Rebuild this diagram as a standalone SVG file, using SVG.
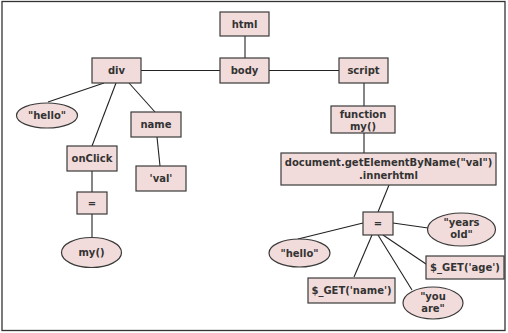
<svg xmlns="http://www.w3.org/2000/svg" width="508" height="333" viewBox="0 0 508 333">
<style>
.n rect, .n ellipse { fill: #f2dcdb; stroke: #3a3a3a; stroke-width: 1.2; }
.n text { font-family: "DejaVu Sans", "Verdana", sans-serif; font-weight: bold; font-size: 10px; fill: #333; text-anchor: middle; }
#edges line { stroke: #222; stroke-width: 1.1; }
</style>
<rect x="2" y="1.5" width="503" height="329" fill="#fff" stroke="#333" stroke-width="1.3"/>
<g id="edges">
<line x1="245" y1="36" x2="245" y2="58"/>
<line x1="141" y1="70.5" x2="220" y2="70.5"/>
<line x1="269" y1="70.5" x2="339" y2="70.5"/>
<line x1="104" y1="83" x2="48" y2="102"/>
<line x1="116" y1="83" x2="92" y2="146"/>
<line x1="129" y1="83" x2="155" y2="112"/>
<line x1="157" y1="137" x2="160" y2="166"/>
<line x1="92" y1="171" x2="92" y2="192"/>
<line x1="92" y1="214" x2="92" y2="237"/>
<line x1="364" y1="83" x2="364" y2="106"/>
<line x1="364" y1="133" x2="364" y2="153"/>
<line x1="389" y1="185" x2="378" y2="212"/>
<line x1="363" y1="223" x2="298" y2="239"/>
<line x1="372" y1="235" x2="354" y2="277"/>
<line x1="378" y1="235" x2="412" y2="290"/>
<line x1="383" y1="235" x2="426" y2="264"/>
<line x1="393" y1="223" x2="428" y2="228"/>
</g>
<g id="html" class="n"><rect x="220" y="12" width="49" height="24"/><text x="244.5" y="27.5">html</text></g>
<g id="body" class="n"><rect x="220" y="58" width="49" height="25"/><text x="244.5" y="74">body</text></g>
<g id="div" class="n"><rect x="92" y="58" width="49" height="25"/><text x="116.5" y="74">div</text></g>
<g id="script" class="n"><rect x="339" y="58" width="49" height="25"/><text x="363.5" y="74">script</text></g>
<g id="hello1" class="n"><ellipse cx="47" cy="115.5" rx="30.5" ry="12.5"/><text x="47" y="119">"hello"</text></g>
<g id="name" class="n"><rect x="131" y="112" width="50" height="25"/><text x="156" y="128">name</text></g>
<g id="onclick" class="n"><rect x="67" y="146" width="50" height="25"/><text x="92" y="162">onClick</text></g>
<g id="val" class="n"><rect x="136" y="166" width="50" height="25"/><text x="161" y="182">'val'</text></g>
<g id="eq1" class="n"><rect x="77" y="192" width="30" height="22"/><text x="92" y="206.5">=</text></g>
<g id="my" class="n"><ellipse cx="91.5" cy="252.5" rx="30" ry="15"/><text x="91.5" y="256">my()</text></g>
<g id="function" class="n"><rect x="331" y="106" width="64" height="27"/><text x="363" y="117.5">function</text><text x="363" y="129.5">my()</text></g>
<g id="document" class="n"><rect x="281" y="153" width="215" height="32"/><text x="388.5" y="166">document.getElementByName("val")</text><text x="388.5" y="178.5">.innerhtml</text></g>
<g id="eq2" class="n"><rect x="363" y="212" width="30" height="23"/><text x="378" y="227">=</text></g>
<g id="years" class="n"><ellipse cx="461.5" cy="229.5" rx="34" ry="16.5"/><text x="461.5" y="226">"years</text><text x="461.5" y="238">old"</text></g>
<g id="hello2" class="n"><ellipse cx="299.5" cy="253" rx="30.5" ry="14"/><text x="299.5" y="256.5">"hello"</text></g>
<g id="getage" class="n"><rect x="426" y="256" width="78" height="23"/><text x="465" y="271">$_GET('age')</text></g>
<g id="getname" class="n"><rect x="308" y="278" width="87" height="25"/><text x="351.5" y="294">$_GET('name')</text></g>
<g id="youare" class="n"><ellipse cx="433" cy="303" rx="30" ry="16"/><text x="433" y="300">"you</text><text x="433" y="312">are"</text></g>
</svg>
